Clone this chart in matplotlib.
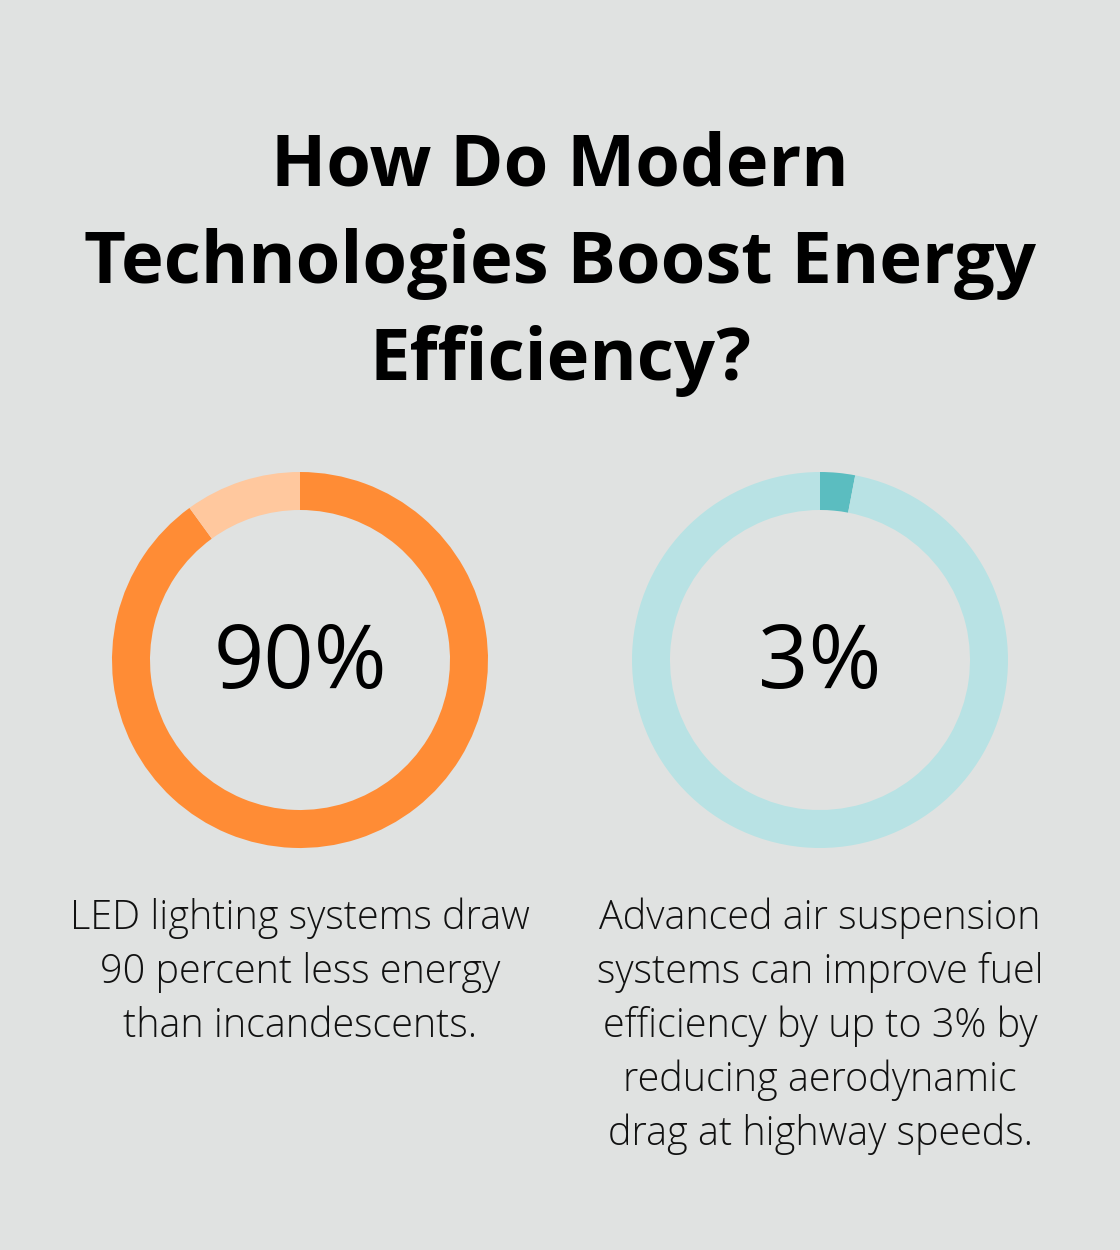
import matplotlib
matplotlib.use("Agg")
import matplotlib.pyplot as plt

# data
labels = ["90%", "3%"]
values = [90, 3]
main_colors = ["#FF8C35", "#5BBDC0"]
rest_colors = ["#FFC89E", "#B8E2E4"]
captions = [
    ["LED lighting systems draw", "90 percent less energy", "than incandescents."],
    ["Advanced air suspension", "systems can improve fuel", "efficiency by up to 3% by",
     "reducing aerodynamic", "drag at highway speeds."],
]
title_lines = ["How Do Modern", "Technologies Boost Energy", "Efficiency?"]

bg = "#E0E2E1"
W, H = 1120, 1250
fig = plt.figure(figsize=(W / 100, H / 100), dpi=100, facecolor=bg)

# full-figure axes in pixel coordinates for text
ax = fig.add_axes([0, 0, 1, 1])
ax.set_xlim(0, W)
ax.set_ylim(H, 0)
ax.axis("off")

for i, line in enumerate(title_lines):
    ax.text(560, 186 + i * 97, line, ha="center", va="baseline",
            fontsize=52, fontweight="bold", family=["Open Sans", "DejaVu Sans"],
            color="#000000")

centers = [300, 820]
R = 188
cy = 660
for i, cx in enumerate(centers):
    pax = fig.add_axes([(cx - R) / W, (H - cy - R) / H, 2 * R / W, 2 * R / H])
    pax.pie([values[i], 100 - values[i]], colors=[main_colors[i], rest_colors[i]],
            startangle=90, counterclock=False, radius=1,
            wedgeprops=dict(width=38 / R, linewidth=0))
    pax.set_xlim(-1, 1)
    pax.set_ylim(-1, 1)
    pax.set_aspect("equal")
    pax.axis("off")

    ax.text(cx, 688, labels[i], ha="center", va="baseline", fontsize=63.5,
            fontweight="medium", family=["Open Sans", "DejaVu Sans"], color="#000000")

    for j, line in enumerate(captions[i]):
        ax.text(cx, 929 + j * 54, line, ha="center", va="baseline", fontsize=28.5,
                fontweight="light", family=["Open Sans", "DejaVu Sans"], color="#111111")

fig.savefig("out.png", dpi=100, facecolor=bg)
